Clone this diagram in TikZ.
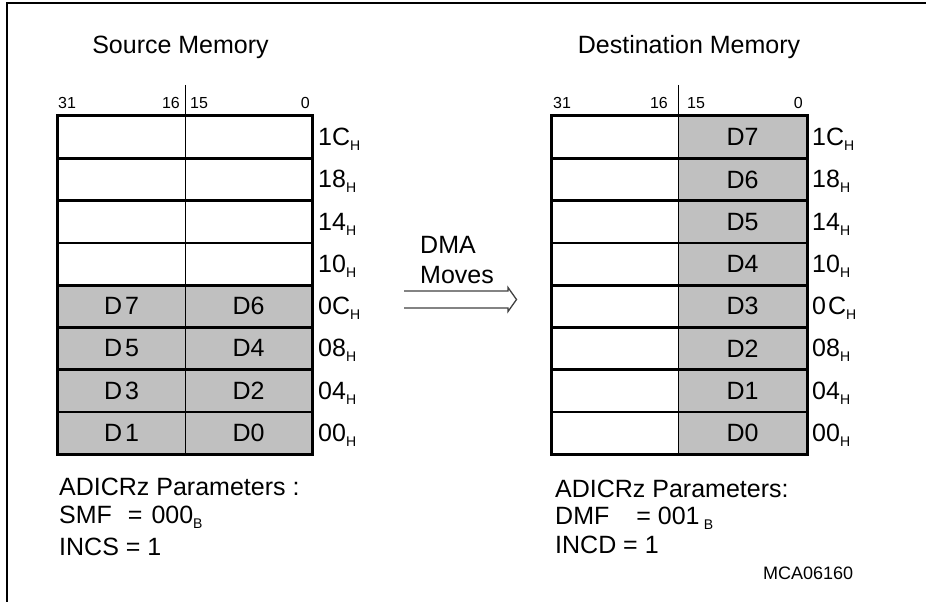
\documentclass[tikz,border=0pt]{standalone}
\usepackage{fontspec}
\setmainfont{Liberation Sans}
\definecolor{cellgray}{RGB}{192,192,192}
\newcommand{\fsz}[1]{\fontsize{#1}{#1}\selectfont}
\newcommand{\lowsub}[1]{\raisebox{-5pt}{\fsz{14}#1}}
\begin{document}
\begin{tikzpicture}[x=1pt,y=-1pt,
  cell/.style={minimum height=42.25pt,inner sep=0pt,font=\fsz{25},text depth=0pt},
  wcell/.style={cell,minimum width=127pt},
  addr/.style={anchor=base west,inner sep=0pt,font=\fsz{25}},
  bitlbl/.style={inner sep=0pt,font=\fsz{16}},
  title/.style={anchor=base,inner sep=0pt,font=\fsz{25}},
  txt/.style={anchor=base west,inner sep=0pt,font=\fsz{25}},
  frame/.style={line width=2.8pt},
  thin/.style={line width=1.1pt},
  arr/.style={line width=1.3pt,draw=black!75,line join=miter}]
\useasboundingbox (0,0) rectangle (926,602);
\draw[line width=1.5pt] (7,602) -- (7,3) -- (926,3);

% titles
\node[title] (stitle) at (180.5,54) {Source Memory};
\node[title] (dtitle) at (689,54) {Destination Memory};

% source cells
\foreach \i/\l/\r/\f/\a in {0/{}/{}/white/1C,1/{}/{}/white/18,2/{}/{}/white/14,3/{}/{}/white/10,
  4/{D\kern3pt 7}/D6/cellgray/0C,5/{D\kern3pt 5}/D4/cellgray/08,6/{D\kern3pt 3}/D2/cellgray/04,7/{D\kern3pt 1}/D0/cellgray/00}{
  \node[wcell,fill=\f] (sl\i) at (121.5,{137.125+42.25*\i}) {\l};
  \node[wcell,fill=\f] (sr\i) at (248.5,{137.125+42.25*\i}) {\r};
  \node[addr] (sa\i) at (318,{145.5+42.25*\i}) {\a\lowsub{H}};
}
% destination cells
\foreach \i/\r/\a in {0/D7/1C,1/D6/18,2/D5/14,3/D4/10,4/D3/{0\kern2pt C},5/D2/08,6/D1/04,7/D0/00}{
  \node[cell,minimum width=126pt,fill=white] (dl\i) at (615,{137.125+42.25*\i}) {};
  \node[cell,minimum width=129pt,fill=cellgray] (dr\i) at (742.5,{137.125+42.25*\i}) {\r};
  \node[addr] (da\i) at (812,{145.5+42.25*\i}) {\a\lowsub{H}};
}

% source grid
\draw[thin] (sl0.north east) ++(0,-31) -- (sl7.south east);
\foreach \i in {0,...,6}{\draw[frame] (sl\i.south west) -- (sr\i.south east);}
\draw[frame] (sl0.north west) rectangle (sr7.south east);
% destination grid
\draw[thin] (dl0.north east) ++(0,-31) -- (dl7.south east);
\foreach \i in {0,...,6}{\draw[frame] (dl\i.south west) -- (dr\i.south east);}
\draw[frame] (dl0.north west) rectangle (dr7.south east);

% bit labels
\node[bitlbl,anchor=base west] (s31) at (58,108) {31};
\node[bitlbl,anchor=base east] (s16) at (180,108) {16};
\node[bitlbl,anchor=base west] (s15) at (190,108) {15};
\node[bitlbl,anchor=base east] (s0) at (310,108) {0};
\node[bitlbl,anchor=base west] (d31) at (553,108) {31};
\node[bitlbl,anchor=base east] (d16) at (668,108) {16};
\node[bitlbl,anchor=base west] (d15) at (687,108) {15};
\node[bitlbl,anchor=base east] (d0) at (803,108) {0};

% DMA moves
\node[txt] (dma) at (420,253) {DMA};
\node[txt] (moves) at (420,283) {Moves};
\coordinate (atop) at (404,291);
\coordinate (abot) at (404,308);
\draw[arr] (atop) -- (508,291) -- (508,287.5) -- (516.5,299.5) -- (508,311.5) -- (508,308) -- (abot);

% parameters
\node[txt] (sp1) at (59,495) {ADICRz Parameters :};
\node[txt] (sp2) at (59,523) {SMF\hspace{16pt}= \hspace{2pt}000\lowsub{B}};
\node[txt] (sp3) at (59,555) {INCS = 1};
\node[txt] (dp1) at (555,497) {ADICRz Parameters:};
\node[txt] (dp2) at (555,524) {DMF\hspace{27pt}= 001\,\lowsub{B}};
\node[txt] (dp3) at (555,553) {INCD = 1};
\node[anchor=base west,inner sep=0pt,font=\fsz{18}] (mca) at (763,579) {MCA06160};
\end{tikzpicture}
\end{document}
